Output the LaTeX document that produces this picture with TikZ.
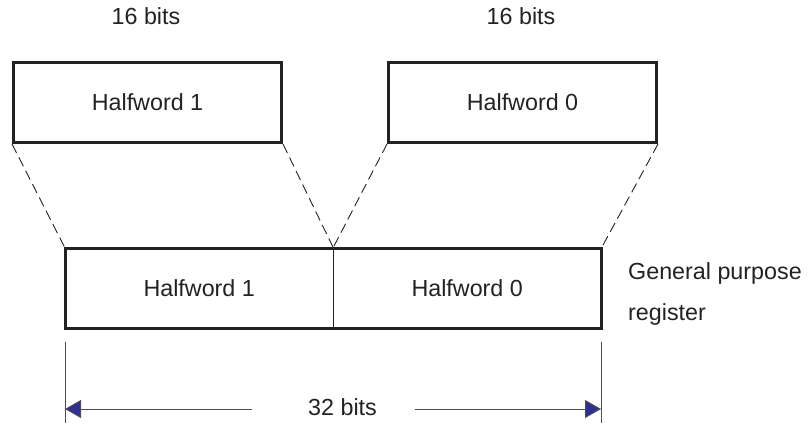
\documentclass[tikz,border=0pt]{standalone}
\usepackage{fontspec}
\setmainfont{Liberation Sans}
\usetikzlibrary{arrows.meta}
\definecolor{ink}{HTML}{222222}
\definecolor{tipblue}{HTML}{2E3192}
\begin{document}
\begin{tikzpicture}[x=1pt,y=-1pt,
  font=\fontsize{23.3}{28}\selectfont, text=ink,
  halfbox/.style={draw=ink, line width=3pt, minimum width=268pt, minimum height=80pt, inner sep=0pt, anchor=north west},
  regcell/.style={minimum width=268pt, minimum height=80pt, inner sep=0pt, anchor=north west},
  guide/.style={draw=ink, line width=0.9pt, dash pattern=on 10pt off 5pt},
  dimline/.style={draw=ink!80, line width=0.9pt},
  bluetip/.style={-{Triangle[length=16pt,width=18pt,fill=tipblue]}}
  ]
\useasboundingbox (0,0) rectangle (811,423);
% top halfwords
\node[halfbox] (top1) at (12,61) {Halfword 1};
\node[halfbox] (top0) at (387,61) {Halfword 0};
\node (b16l) at (146,16) {16 bits};
\node (b16r) at (521,16) {16 bits};
% register
\node[regcell] (reg1) at (65,248) {Halfword 1};
\node[regcell] (reg0) at (333,248) {Halfword 0};
\draw[draw=ink, line width=1pt] (reg1.north east) -- (reg1.south east);
\draw[draw=ink, line width=3pt] (reg1.north west) rectangle (reg0.south east);
\node[anchor=base west, inner sep=0pt] (gp) at (628,279) {General purpose};
\node[anchor=base west, inner sep=0pt] (greg) at (628,320) {register};
% dashed guides
\draw[guide] (top1.south west) -- (reg1.north west);
\draw[guide] (top1.south east) -- (reg1.north east);
\draw[guide] (top0.south west) -- (reg0.north west);
\draw[guide] (top0.south east) -- (reg0.north east);
% dimension
\coordinate (dl0) at (65,342);
\coordinate (dl1) at (65,423);
\coordinate (dr0) at (601,342);
\coordinate (dr1) at (601,423);
\draw[dimline] (dl0) -- (dl1);
\draw[dimline] (dr0) -- (dr1);
\node[anchor=base west, inner sep=0pt] (b32) at (308,415) {32 bits};
\coordinate (al) at (65,409);
\coordinate (ar) at (601,409);
\coordinate (als) at (252,409);
\coordinate (ars) at (415,409);
\draw[dimline, bluetip] (als) -- (al);
\draw[dimline, bluetip] (ars) -- (ar);
\end{tikzpicture}
\end{document}
